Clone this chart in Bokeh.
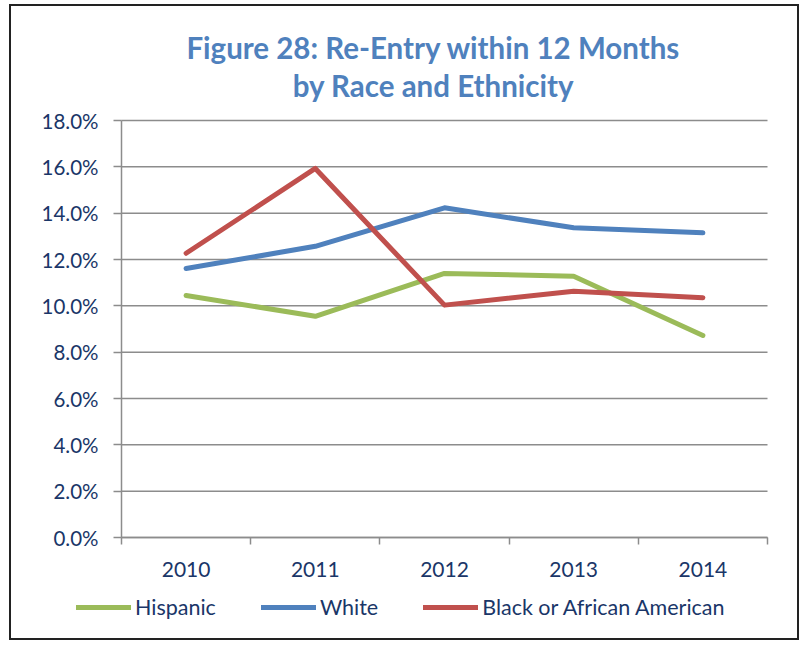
from bokeh.plotting import figure
from bokeh.models import (Range1d, FixedTicker, LinearAxis, Legend, LegendItem, Label)
from bokeh.embed import file_html
from bokeh.resources import INLINE

# ---- data ----
years = ["2010", "2011", "2012", "2013", "2014"]
hispanic = [0.1045, 0.0955, 0.1140, 0.1128, 0.0872]
white = [0.1161, 0.1257, 0.1423, 0.1337, 0.1315]
black = [0.1227, 0.1593, 0.1003, 0.1063, 0.1035]
series_names = ["Hispanic", "White", "Black or African American"]
y_ticks = [0.0, 0.02, 0.04, 0.06, 0.08, 0.10, 0.12, 0.14, 0.16, 0.18]
y_tick_labels = ["0.0%", "2.0%", "4.0%", "6.0%", "8.0%", "10.0%", "12.0%", "14.0%", "16.0%", "18.0%"]
title_lines = ["Figure 28: Re-Entry within 12 Months", "by Race and Ethnicity"]

# ---- style ----
colors = ["#9BBB59", "#4F81BD", "#C0504D"]
FONT = "Lato"
TXT = "#1A3668"
GRID = "#8C8C8C"

# ---- layout (page pixels) ----
CANVAS_X0, CANVAS_Y0 = 11, 6          # canvas origin on page (margin + border)
W, H = 790, 636
AX_L, AX_R, AX_T, AX_B = 121, 767, 120, 537   # plotting area of the chart
FR_L, FR_R, FR_T, FR_B = 24, 796, 14, 628     # drawing frame (holds labels, title & legend)

n = len(years)
y_max = y_ticks[-1]
px_x = (AX_R - AX_L) / n
px_y = (AX_B - AX_T) / y_max
x_range = Range1d(-(AX_L - FR_L) / px_x, n + (FR_R - AX_R) / px_x)
y_range = Range1d(-(FR_B - AX_B) / px_y, y_max + (AX_T - FR_T) / px_y)

x = [i + 0.5 for i in range(n)]

p = figure(width=W, height=H, x_range=x_range, y_range=y_range,
           output_backend="svg", toolbar_location=None, x_axis_type=None, y_axis_type=None,
           min_border_left=FR_L - CANVAS_X0, min_border_right=CANVAS_X0 + W - FR_R,
           min_border_top=FR_T - CANVAS_Y0, min_border_bottom=CANVAS_Y0 + H - FR_B)
p.title.visible = False
p.outline_line_color = None
p.xgrid.visible = False
p.ygrid.visible = False
p.styles = {"border": "2px solid #222222", "margin-left": "9px", "margin-top": "4px"}

# horizontal gridlines across the category span
p.segment(x0=[0] * len(y_ticks), y0=y_ticks, x1=[n] * len(y_ticks), y1=y_ticks,
          line_color=GRID, line_width=1.5)

yaxis = LinearAxis(fixed_location=0, bounds=(0, y_max),
                   ticker=FixedTicker(ticks=y_ticks, minor_ticks=[]),
                   major_label_overrides={v: lab for v, lab in zip(y_ticks, y_tick_labels)},
                   axis_line_color=GRID, axis_line_width=1.5,
                   major_tick_line_color=GRID, major_tick_line_width=1.5,
                   major_tick_out=8, major_tick_in=0, minor_tick_line_color=None,
                   major_label_standoff=15, major_label_text_font=FONT,
                   major_label_text_font_size="20.5px", major_label_text_color=TXT)
p.add_layout(yaxis, "left")

xticks_axis = LinearAxis(fixed_location=0, bounds=(0, n),
                         ticker=FixedTicker(ticks=list(range(n + 1)), minor_ticks=[]),
                         axis_line_color=GRID, axis_line_width=1.5,
                         major_tick_line_color=GRID, major_tick_line_width=1.5,
                         major_tick_out=7, major_tick_in=0, minor_tick_line_color=None,
                         major_label_text_font_size="0px", major_label_standoff=0)
p.add_layout(xticks_axis, "below")

xlabel_axis = LinearAxis(fixed_location=0, bounds=(0, n),
                         ticker=FixedTicker(ticks=x, minor_ticks=[]),
                         major_label_overrides={xi: yr for xi, yr in zip(x, years)},
                         axis_line_color=None, major_tick_line_color=None, minor_tick_line_color=None,
                         major_label_standoff=18, major_label_text_font=FONT,
                         major_label_text_font_size="21px", major_label_text_color=TXT)
p.add_layout(xlabel_axis, "below")

renderers = []
for vals, c in zip([hispanic, white, black], colors):
    r = p.line(x, vals, line_color=c, line_width=5, line_cap="round", line_join="round")
    renderers.append(r)

legend = Legend(items=[LegendItem(label=nm, renderers=[r]) for nm, r in zip(series_names, renderers)],
                orientation="horizontal", location=(76 - FR_L, FR_B - 620),
                border_line_color=None, background_fill_alpha=0,
                label_text_font=FONT, label_text_font_size="21.5px", label_text_color=TXT,
                glyph_width=55, glyph_height=20, spacing=45, label_standoff=4,
                padding=0, margin=0)
p.add_layout(legend, "center")

for t, cy in zip(title_lines, [47, 85]):
    p.add_layout(Label(x=433 - FR_L, y=FR_B - cy, x_units="screen", y_units="screen", text=t,
                       text_align="center", text_baseline="middle", text_font=FONT,
                       text_font_style="bold", text_font_size="29.5px", text_color="#4F81BD"))

open("out.html", "w").write(file_html(p, INLINE))
